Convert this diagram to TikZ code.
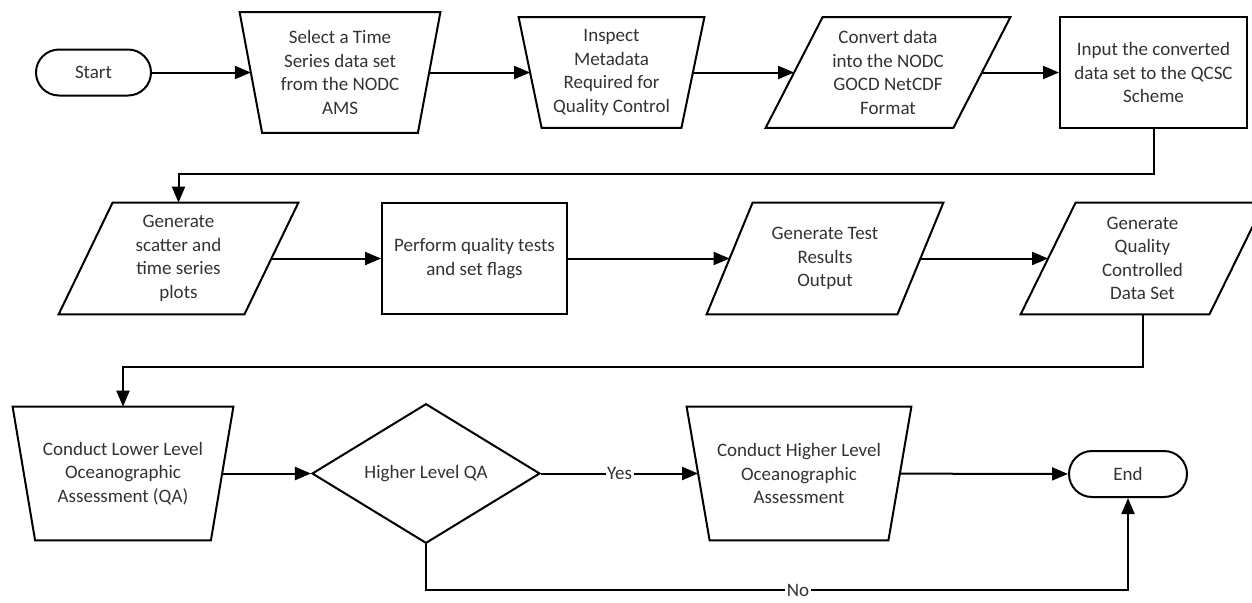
\documentclass[tikz,border=0pt]{standalone}
\usepackage{fontspec}
\setmainfont{Carlito}
\usetikzlibrary{shapes.geometric,calc,arrows.meta}
\definecolor{txt}{RGB}{50,50,50}
\newcommand{\paraOutline}[2]{\draw[shp] ($(#1.north west)+(#2,0)$) -- ($(#1.north east)+(#2,0)$) -- ($(#1.south east)-(#2,0)$) -- ($(#1.south west)-(#2,0)$) -- cycle;}
\newcommand{\manOutline}[2]{\draw[shp] ($(#1.north west)-(#2,0)$) -- ($(#1.north east)+(#2,0)$) -- ($(#1.south east)-(#2,0)$) -- ($(#1.south west)+(#2,0)$) -- cycle;}
\tikzset{
  lbl/.style={font=\fontsize{9.5}{11.75}\selectfont, text=txt, align=center, inner sep=0pt},
  shp/.style={draw=black, line width=1pt, line join=miter},
  hidden/.style={lbl, draw=none},
  rectbox/.style={lbl, shp},
  term/.style={lbl, shp, rounded corners=11.5pt},
  decision/.style={lbl, shp, diamond},
  arr/.style={draw=black, line width=1pt, -{Triangle[length=8pt,width=6.5pt]}},
  lab/.style={lbl, fill=white, inner sep=0.8pt}
}
\begin{document}
\begin{tikzpicture}[x=0.5pt, y=-0.5pt]
\useasboundingbox (0,0) rectangle (1252,602);
% row 1
\node[term, minimum width=57.5pt, minimum height=23pt] (start) at (93.5,72.5) {Start};
\node[hidden, minimum width=88.75pt, minimum height=60pt] (select) at (340,72.5) {Select a Time\\Series data set\\from the NODC\\AMS};
\manOutline{select}{11.25}
\node[hidden, minimum width=81pt, minimum height=55pt] (inspect) at (611.5,72.5) {Inspect\\Metadata\\Required for\\Quality Control};
\manOutline{inspect}{11.5}
\node[hidden, minimum width=93.5pt, minimum height=55pt] (convert) at (888,72.5) {Convert data\\into the NODC\\GOCD NetCDF\\Format};
\paraOutline{convert}{28.5}
\node[rectbox, minimum width=93.5pt, minimum height=55.5pt] (input) at (1153.5,72.5) {Input the converted\\data set to the QCSC\\Scheme};
% row 2
\node[hidden, minimum width=92.5pt, minimum height=55.5pt] (scatter) at (178.5,258.5) {Generate\\scatter and\\time series\\plots};
\paraOutline{scatter}{27}
\node[rectbox, minimum width=92.5pt, minimum height=55.5pt] (perform) at (474.5,258.5) {Perform quality tests\\and set flags};
\node[hidden, minimum width=95pt, minimum height=55.5pt] (gentest) at (825,258.5) {Generate Test\\Results\\Output};
\paraOutline{gentest}{23}
\node[hidden, minimum width=94pt, minimum height=55.5pt] (qc) at (1142.5,258.5) {Generate\\Quality\\Controlled\\Data Set};
\paraOutline{qc}{27.5}
% row 3
\node[hidden, minimum width=98.75pt, minimum height=66.5pt] (lower) at (123,473.5) {Conduct Lower Level\\Oceanographic\\Assessment (QA)};
\manOutline{lower}{11.25}
\node[decision, minimum width=114pt, minimum height=68.5pt] (dec) at (426,473.5) {Higher Level QA};
\node[hidden, minimum width=100.5pt, minimum height=66.5pt] (higher) at (799,473.5) {Conduct Higher Level\\Oceanographic\\Assessment};
\manOutline{higher}{11.5}
\node[term, minimum width=59pt, minimum height=23pt] (end) at (1128,474) {End};
% connectors
\draw[arr] (start) -- (select);
\draw[arr] (select) -- (inspect);
\draw[arr] (inspect) -- (convert);
\draw[arr] (convert) -- (input);
\draw[arr] (input.south) -- ++(0,45) -| (scatter.north);
\draw[arr] (scatter) -- (perform);
\draw[arr] (perform) -- (gentest);
\draw[arr] (gentest) -- (qc);
\draw[arr] (qc.south) -- ++(0,53) -| (lower.north);
\draw[arr] (lower) -- (dec);
\draw[arr] (dec) -- node[lab] {Yes} (higher);
\draw[arr] (higher) -- (end);
\draw[arr] (dec.south) -- ++(0,46) -| node[lab, pos=0.265] {No} (end.south);
\end{tikzpicture}
\end{document}
